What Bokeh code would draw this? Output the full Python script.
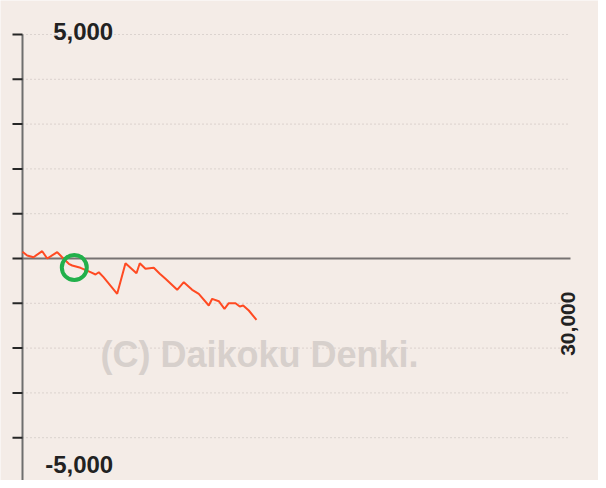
import math
from bokeh.plotting import figure
from bokeh.models import Range1d
from bokeh.core.properties import value
from bokeh.embed import file_html
from bokeh.resources import INLINE

# ---- data ----
games = [0, 257, 602, 1078, 1352, 1900, 2173, 2534, 2721, 3175, 3722, 3996, 4177, 4434,
         5184, 5638, 6240, 6421, 6733, 7187, 7516, 7828, 8468, 8830, 9289, 9651,
         10198, 10384, 10746, 11057, 11293, 11660, 11895, 12081, 12388, 12809]
diff = [150, 67, 29, 163, 0, 141, 29, -118, -156, -208, -306, -357, -306, -417,
        -788, -105, -328, -105, -230, -208, -341, -453, -699, -529, -699, -789,
        -1049, -900, -953, -1123, -998, -998, -1071, -1049, -1161, -1368]
marker_x = [2836]
marker_y = [-200]
y_ticks = [5000, 4000, 3000, 2000, 1000, 0, -1000, -2000, -3000, -4000, -5000]
grid_vals = [v for v in y_ticks if v != 0]
y_label_vals = [5000, -5000]
y_label_text = ["5,000", "-5,000"]
x_max = 30000
x_label_text = ["30,000"]
watermark = ["(C) Daikoku Denki."]

# ---- layout (pixel mapping) ----
W, H = 598, 480
AXIS_PX, END_PX = 22, 570
TOP_PX, BOT_PX = 34, 482
ux = x_max / (END_PX - AXIS_PX)
uy = 10000 / (BOT_PX - TOP_PX)
X0 = -AXIS_PX * ux
X1 = x_max + (W - END_PX) * ux
Y1 = 5000 + TOP_PX * uy
Y0 = -5000 + (BOT_PX - H) * uy

BG = "#f4ece7"
FONT = value("Liberation Sans")
p = figure(width=W, height=H, x_range=Range1d(X0, X1), y_range=Range1d(Y0, Y1),
           output_backend="svg", toolbar_location=None,
           x_axis_type=None, y_axis_type=None, min_border=0)
p.background_fill_color = BG
p.border_fill_color = BG
p.outline_line_color = None

# dotted grid
p.segment(x0=[0] * len(grid_vals), x1=[x_max] * len(grid_vals), y0=grid_vals, y1=grid_vals,
          line_color="#c2bab6", line_width=1, line_dash="1 3")

# watermark
p.text(x=[0], y=[-2000], text=watermark, x_offset=78, y_offset=6,
       text_font=FONT, text_font_size="36px", text_font_style="bold",
       text_color="#d7d0cc", text_align="left", text_baseline="alphabetic")

# zero line
p.segment(x0=[0], x1=[x_max], y0=[0], y1=[0], line_color="#767272", line_width=2)

# y axis line and ticks
p.segment(x0=[0], x1=[0], y0=[min(y_ticks)], y1=[max(y_ticks)], line_color="#6e6e6e", line_width=2)
p.segment(x0=[-10 * ux] * len(y_ticks), x1=[0] * len(y_ticks), y0=y_ticks, y1=y_ticks,
          line_color="#262626", line_width=2)

# y labels
p.text(x=[0], y=[y_label_vals[0]], text=[y_label_text[0]], x_offset=90.7, y_offset=-3,
       text_font=FONT, text_font_size="24px", text_font_style="bold", text_color="#222222",
       text_align="right", text_baseline="alphabetic")
p.text(x=[0], y=[y_label_vals[1]], text=[y_label_text[1]], x_offset=90.7, y_offset=-18,
       text_font=FONT, text_font_size="24px", text_font_style="bold", text_color="#222222",
       text_align="right", text_baseline="alphabetic")

# x max label (rotated)
p.text(x=[x_max], y=[-1500], text=x_label_text, angle=math.pi / 2, x_offset=-3, y_offset=-2,
       text_font=FONT, text_font_size="21px", text_font_style="bold", text_color="#222222",
       text_align="center", text_baseline="middle")

# data line
p.line(games, diff, line_color="#ff4a22", line_width=2)

# marker circle
p.scatter(marker_x, marker_y, size=25, fill_color=None, line_color="#22b04b", line_width=4)

open("out.html", "w").write(file_html(p, INLINE))
